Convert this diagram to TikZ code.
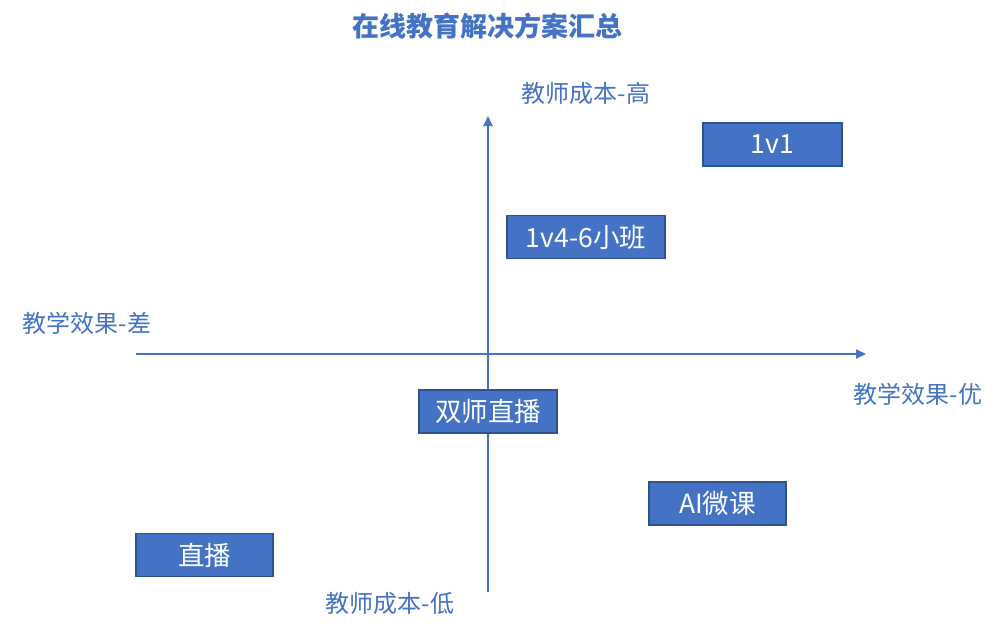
\documentclass[tikz,border=0pt]{standalone}
\usepackage{fontspec}
\setmainfont{Noto Sans CJK SC}
\usetikzlibrary{arrows.meta}
\definecolor{cblue}{HTML}{4472C4}
\definecolor{cedge}{HTML}{2F528F}
\begin{document}
\begin{tikzpicture}[x=1pt,y=-1pt,
  qbox/.style={draw=cedge,line width=1.3pt,fill=cblue,text=white,minimum width=137pt,minimum height=43pt,inner sep=0pt,font=\fontsize{26.5}{30}\selectfont},
  axlabel/.style={text=cblue,inner sep=0pt,font=\fontsize{24}{28}\selectfont},
  axis/.style={draw=cblue,line width=2pt,-{Triangle[length=10pt,width=9pt]}}]
\useasboundingbox (0,0) rectangle (1004,632);
\node[text=cblue,font=\fontsize{27}{31}\selectfont\bfseries] (title) at (487,26) {在线教育解决方案汇总};
\coordinate (vb) at (488,592);
\coordinate (vt) at (488,116);
\coordinate (hl) at (136,354);
\coordinate (hr) at (866,354);
\draw[axis] (vb) -- (vt);
\draw[axis] (hl) -- (hr);
\node[axlabel] (top) at (586,93) {教师成本-高};
\node[axlabel] (left) at (87,323) {教学效果-差};
\node[axlabel] (right) at (918,394) {教学效果-优};
\node[axlabel] (bottom) at (390,603) {教师成本-低};
\node[qbox,minimum width=139pt] (a) at (772.5,144.5) {1v1};
\node[qbox,minimum width=158pt] (b) at (586,237) {1v4-6小班};
\node[qbox,minimum width=138pt] (c) at (488,411.5) {双师直播};
\node[qbox,minimum width=137pt] (d) at (717.5,503.5) {AI微课};
\node[qbox,minimum width=137pt] (e) at (204.5,555) {直播};
\end{tikzpicture}
\end{document}
